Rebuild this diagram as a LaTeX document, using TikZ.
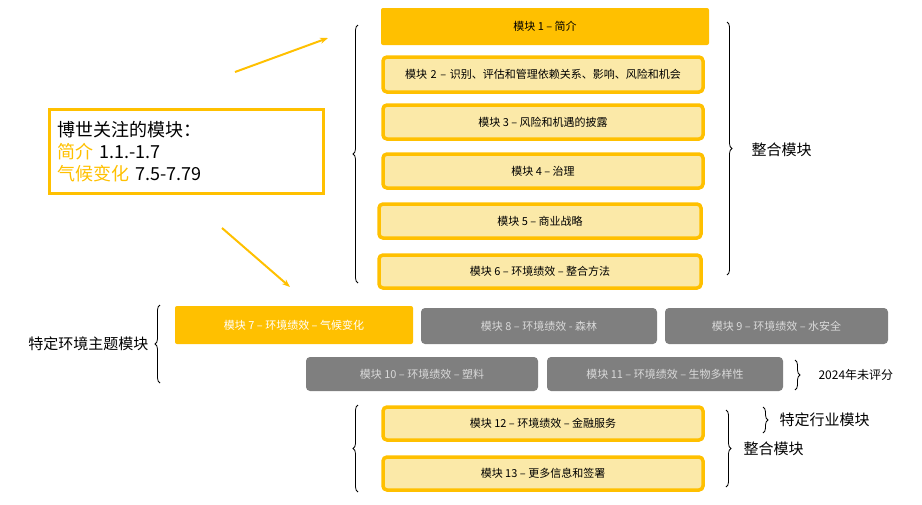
\documentclass[tikz,border=0pt]{standalone}
\usepackage{fontspec}
\setmainfont{Noto Sans CJK SC}
\usetikzlibrary{decorations.pathreplacing,arrows.meta}
\definecolor{gold}{HTML}{FFC000}
\definecolor{pale}{HTML}{FBE9A8}
\definecolor{greybox}{HTML}{7F7F7F}
\tikzset{
  modbox/.style={draw=gold, line width=3.5pt, fill=pale, rounded corners=4pt, font=\fontsize{11}{13}\selectfont, align=center},
  goldbox/.style={fill=gold, rounded corners=2pt, font=\fontsize{11}{13}\selectfont},
  greymod/.style={fill=greybox, text=white!85!black, rounded corners=4pt, font=\fontsize{11}{13}\selectfont},
  brc/.style={decorate, decoration={brace, amplitude=5pt}, thick},
  bigtext/.style={font=\fontsize{15}{17}\selectfont, anchor=west},
}
\begin{document}
\begin{tikzpicture}[x=1pt,y=-1pt]
    \useasboundingbox (0,0) rectangle (922,504);
    % integrated modules
    \node[goldbox, minimum width=328pt, minimum height=37pt] (m1) at (545,26.5) {模块 1 – 简介};
    \node[modbox, minimum width=320pt, minimum height=35pt, text width=300pt] (m2) at (543,74.5) {模块 2 – 识别、评估和管理依赖关系、影响、风险和机会};
    \node[modbox, minimum width=320pt, minimum height=34pt] (m3) at (543,122) {模块 3 – 风险和机遇的披露};
    \node[modbox, minimum width=320pt, minimum height=34pt] (m4) at (543,171) {模块 4 – 治理};
    \node[modbox, minimum width=322pt, minimum height=34pt] (m5) at (540,221) {模块 5 – 商业战略};
    \node[modbox, minimum width=322pt, minimum height=33pt] (m6) at (540,271.5) {模块 6 – 环境绩效 – 整合方法};
    % thematic modules
    \node[goldbox, text=white, minimum width=238pt, minimum height=38pt] (m7) at (294,325) {模块 7 – 环境绩效 – 气候变化};
    \node[greymod, minimum width=236pt, minimum height=36pt] (m8) at (539,326) {模块 8 – 环境绩效 - 森林};
    \node[greymod, minimum width=223pt, minimum height=36pt] (m9) at (776.5,326) {模块 9 – 环境绩效 – 水安全};
    \node[greymod, minimum width=232pt, minimum height=34pt] (m10) at (422,374) {模块 10 – 环境绩效 – 塑料};
    \node[greymod, minimum width=236pt, minimum height=34pt] (m11) at (665,374) {模块 11 – 环境绩效 – 生物多样性};
    \node[modbox, minimum width=320pt, minimum height=33pt] (m12) at (543,423.5) {模块 12 – 环境绩效 – 金融服务};
    \node[modbox, minimum width=320pt, minimum height=33pt] (m13) at (543,473.5) {模块 13 – 更多信息和签署};
    % focus box
    \node[draw=gold, line width=2.5pt, minimum height=84pt, text width=258pt, align=left, anchor=north west, font=\fontsize{18}{22}\selectfont, inner sep=8pt] (focus) at (48,108)
      {博世关注的模块：\\ \textcolor{gold}{简介} 1.1.-1.7\\ \textcolor{gold}{气候变化} 7.5-7.79};
    \coordinate (a1s) at (235,72);  \coordinate (a1e) at (328,38);
    \coordinate (a2s) at (222,228); \coordinate (a2e) at (290,287);
    \draw[gold, line width=2pt, -{Stealth[length=8pt]}] (a1s) -- (a1e);
    \draw[gold, line width=2pt, -{Stealth[length=8pt]}] (a2s) -- (a2e);
    % braces
    \draw[brc] (358,283) -- (358,25);
    \draw[brc] (727,22) -- (727,275);
    \node[bigtext] (lint) at (748,150) {整合模块};
    \draw[brc] (160,383) -- (160,305);
    \node[bigtext, anchor=east] (lthem) at (152,344) {特定环境主题模块};
    \draw[brc] (795,360) -- (795,390);
    \node[bigtext, anchor=west, font=\fontsize{12}{14}\selectfont] (lnot) at (815,375) {2024年未评分};
    \draw[brc] (763,407) -- (763,433);
    \node[bigtext] (lind) at (776,420) {特定行业模块};
    \draw[brc] (726,410) -- (726,487);
    \node[bigtext] (lint2) at (740,449) {整合模块};
    \draw[brc] (358,492) -- (358,405);
\end{tikzpicture}
\end{document}
